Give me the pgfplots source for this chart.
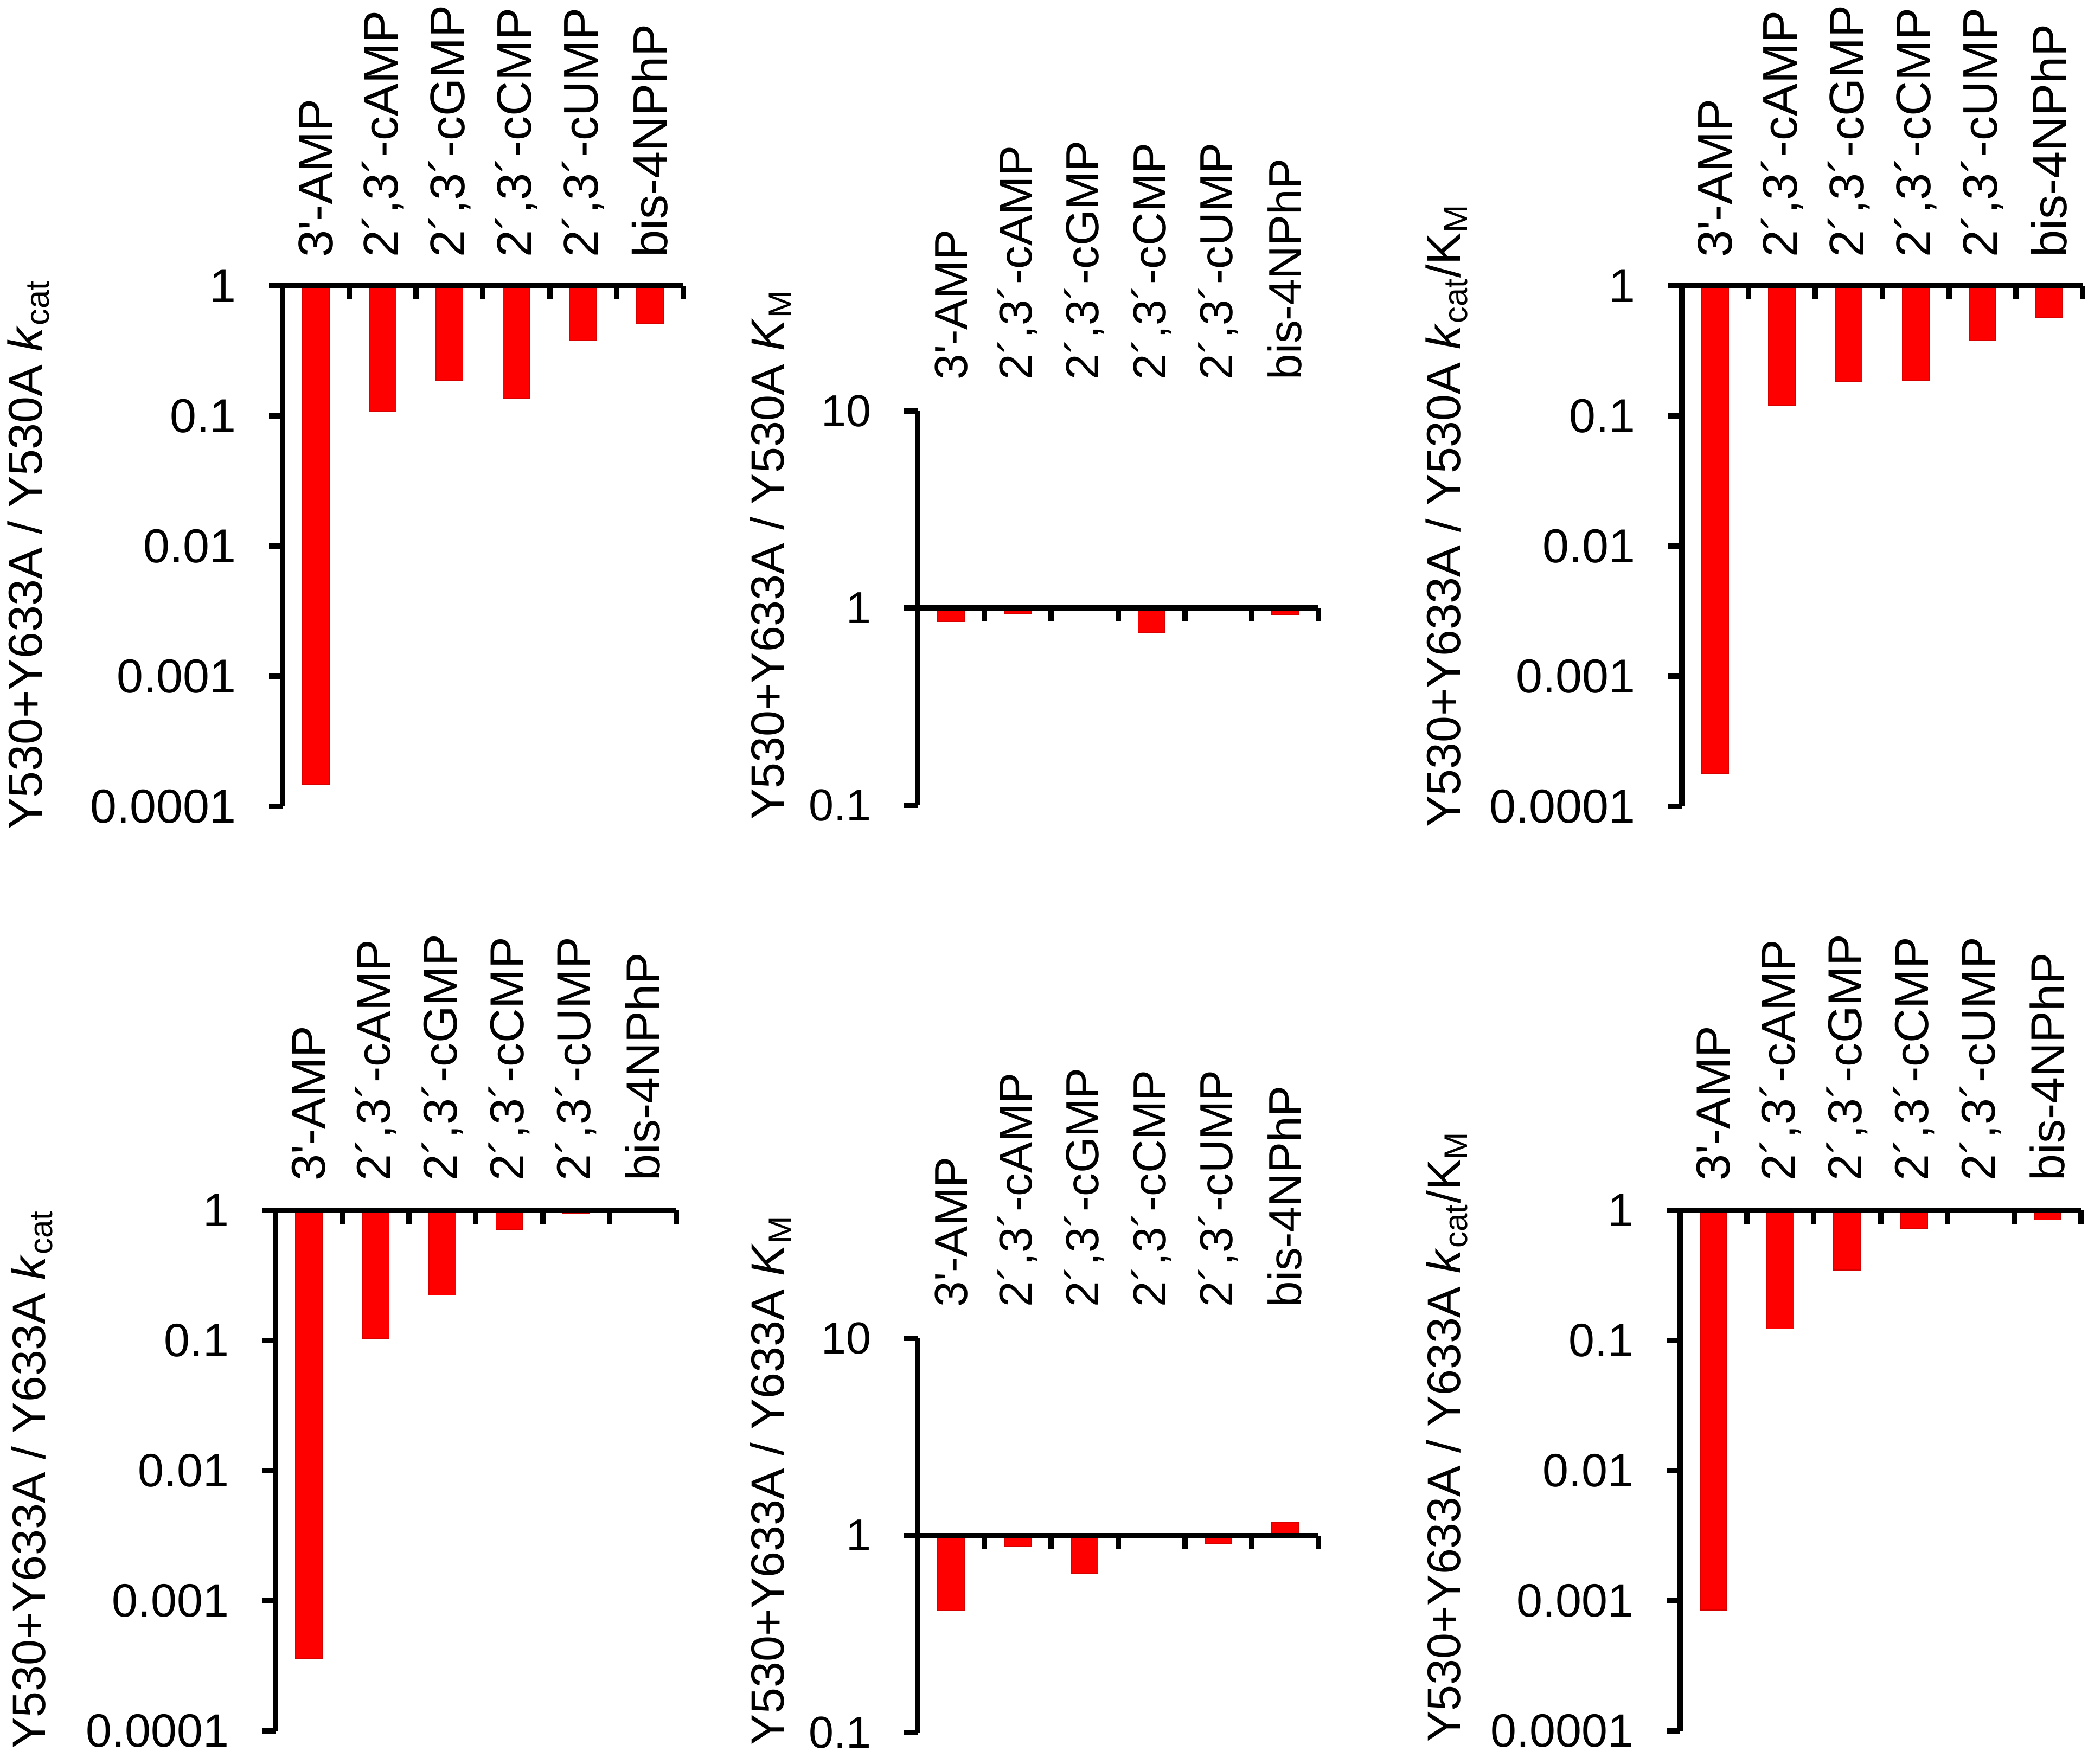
\documentclass[border=0pt]{standalone}
\usepackage{fontspec}
\setmainfont{Liberation Sans}[Ligatures=TeXOff]
\usepackage{pgfplots}
\pgfplotsset{compat=1.18}

\newcommand\xaxisline{%
  \draw[line width=1mm] (axis cs:-0.5,1) -- (axis cs:5.5,1);
  \pgfplotsinvokeforeach{0.5,1.5,2.5,3.5,4.5,5.5}{\draw[line width=1mm] (axis cs:##1,1) -- ([yshift=-2.5mm]axis cs:##1,1);}%
}

\pgfplotsset{
  every axis/.append style={
    scale only axis, width=73.9mm,
    xmin=-0.5, xmax=5.5,
    axis y line*=left, axis x line*=top,
    x axis line style={draw=none},
    xtick={0,...,5},
    xticklabels={3'-AMP,{2´,3´-cAMP},{2´,3´-cGMP},{2´,3´-cCMP},{2´,3´-cUMP},bis-4NPhP},
    xtick style={draw=none},
    xticklabel style={rotate=90, anchor=west, inner sep=0pt},
    ytick align=outside,
    yminorticks=false,
    y axis line style={line width=1mm},
    ytick style={line width=1mm, black},
    major tick length=2.5mm,
    yticklabel style={anchor=east, inner sep=0pt},
    yticklabel shift=6mm,
    ylabel style={anchor=base, inner sep=0pt},
    clip=false,
  },
}
\tikzset{redbar/.style={fill=red, draw=red!85!black, line width=0.5pt}}

\begin{document}
\begin{tikzpicture}
\useasboundingbox (0,0) rectangle (385mm,325.3mm);

% top left
\begin{axis}[ymode=log, ybar, bar width=0.4, ymin=1e-4, ymax=1, height=96mm,
  ytick={0.0001,0.001,0.01,0.1,1}, yticklabels={0.0001,0.001,0.01,0.1,1},
  xticklabel shift=2.7mm,
  xticklabel style={font=\fontsize{25.6}{25.6}\selectfont},
  yticklabel style={font=\fontsize{25}{25}\selectfont},
  ylabel style={font=\fontsize{25}{25}\selectfont},
  at={(52.1mm,176.6mm)}, anchor=south west,
  ylabel={Y530+Y633A / Y530A \textit{k}\textsubscript{cat}},
  ylabel style={at={(axis description cs:-0.600,0.483)}}]
\addplot[redbar] coordinates {(0,1.48e-4) (1,0.108) (2,0.186) (3,0.136) (4,0.379) (5,0.514)};
\xaxisline
\end{axis}

% top middle
\begin{axis}[ymode=log, ybar, bar width=0.4, ymin=0.1, ymax=10, height=72.7mm,
  ytick={0.1,1,10}, yticklabels={0.1,1,10},
  xticklabel shift=3.2mm,
  xticklabel style={font=\fontsize{24.3}{24.3}\selectfont},
  yticklabel style={font=\fontsize{23.5}{23.5}\selectfont},
  ylabel style={font=\fontsize{24.5}{24.5}\selectfont},
  at={(169.2mm,176.8mm)}, anchor=south west,
  ylabel={Y530+Y633A / Y530A \textit{K}\textsubscript{M}},
  ylabel style={at={(axis description cs:-0.333,0.635)}}]
\addplot[redbar] coordinates {(0,0.857) (1,0.936) (2,1) (3,0.748) (4,1) (5,0.93)};
\xaxisline
\end{axis}

% top right
\begin{axis}[ymode=log, ybar, bar width=0.4, ymin=1e-4, ymax=1, height=96mm,
  ytick={0.0001,0.001,0.01,0.1,1}, yticklabels={0.0001,0.001,0.01,0.1,1},
  xticklabel shift=2.7mm,
  xticklabel style={font=\fontsize{25.6}{25.6}\selectfont},
  yticklabel style={font=\fontsize{25}{25}\selectfont},
  ylabel style={font=\fontsize{25}{25}\selectfont},
  at={(310.1mm,176.6mm)}, anchor=south west,
  ylabel={Y530+Y633A / Y530A \textit{k}\textsubscript{cat}/K\textsubscript{M}},
  ylabel style={at={(axis description cs:-0.553,0.558)}}]
\addplot[redbar] coordinates {(0,1.78e-4) (1,0.12) (2,0.184) (3,0.187) (4,0.379) (5,0.57)};
\xaxisline
\end{axis}

% bottom left
\begin{axis}[ymode=log, ybar, bar width=0.4, ymin=1e-4, ymax=1, height=96mm,
  ytick={0.0001,0.001,0.01,0.1,1}, yticklabels={0.0001,0.001,0.01,0.1,1},
  xticklabel shift=2.9mm,
  xticklabel style={font=\fontsize{25}{25}\selectfont},
  yticklabel style={font=\fontsize{24.5}{24.5}\selectfont},
  ylabel style={font=\fontsize{24.5}{24.5}\selectfont},
  at={(50.8mm,6.1mm)}, anchor=south west,
  ylabel={Y530+Y633A / Y633A \textit{k}\textsubscript{cat}},
  ylabel style={at={(axis description cs:-0.575,0.483)}}]
\addplot[redbar] coordinates {(0,3.6e-4) (1,0.103) (2,0.223) (3,0.715) (4,0.95) (5,1)};
\xaxisline
\end{axis}

% bottom middle
\begin{axis}[ymode=log, ybar, bar width=0.4, ymin=0.1, ymax=10, height=72.7mm,
  ytick={0.1,1,10}, yticklabels={0.1,1,10},
  xticklabel shift=3.2mm,
  xticklabel style={font=\fontsize{24.3}{24.3}\selectfont},
  yticklabel style={font=\fontsize{23.5}{23.5}\selectfont},
  ylabel style={font=\fontsize{24.5}{24.5}\selectfont},
  at={(169.2mm,5.8mm)}, anchor=south west,
  ylabel={Y530+Y633A / Y633A \textit{K}\textsubscript{M}},
  ylabel style={at={(axis description cs:-0.333,0.64)}}]
\addplot[redbar] coordinates {(0,0.415) (1,0.88) (2,0.644) (3,1) (4,0.905) (5,1.166)};
\xaxisline
\end{axis}

% bottom right
\begin{axis}[ymode=log, ybar, bar width=0.4, ymin=1e-4, ymax=1, height=96mm,
  ytick={0.0001,0.001,0.01,0.1,1}, yticklabels={0.0001,0.001,0.01,0.1,1},
  xticklabel shift=2.9mm,
  xticklabel style={font=\fontsize{25}{25}\selectfont},
  yticklabel style={font=\fontsize{24.5}{24.5}\selectfont},
  ylabel style={font=\fontsize{24.5}{24.5}\selectfont},
  at={(309.8mm,6.1mm)}, anchor=south west,
  ylabel={Y530+Y633A / Y633A \textit{k}\textsubscript{cat}/K\textsubscript{M}},
  ylabel style={at={(axis description cs:-0.549,0.565)}}]
\addplot[redbar] coordinates {(0,8.5e-4) (1,0.123) (2,0.347) (3,0.73) (4,1) (5,0.845)};
\xaxisline
\end{axis}
\end{tikzpicture}
\end{document}
